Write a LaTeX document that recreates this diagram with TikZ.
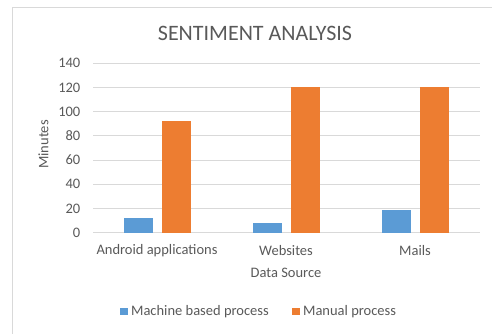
\documentclass[tikz,border=0pt]{standalone}
\usepackage{fontspec}
\setmainfont{Carlito}
\usetikzlibrary{positioning}
\definecolor{barblue}{HTML}{5B9BD5}
\definecolor{barorange}{HTML}{ED7D31}
\definecolor{txtgray}{HTML}{595959}
\definecolor{gridgray}{HTML}{D9D9D9}
\tikzstyle{gridline} = [draw=gridgray, line width=1pt]
\tikzstyle{framebox} = [draw=gridgray, line width=1.2pt]
\tikzstyle{ticklabel} = [text=txtgray, font=\fontsize{14.5}{17}\selectfont, anchor=east, inner sep=0pt]
\tikzstyle{catlabel} = [text=txtgray, font=\fontsize{14.5}{17}\selectfont, inner sep=0pt]
\tikzstyle{machine} = [fill=barblue]
\tikzstyle{manual} = [fill=barorange]
\tikzstyle{legendsq} = [minimum size=7.5pt, inner sep=0pt]

\begin{document}
\begin{tikzpicture}[x=1pt, y=-1pt]
    \useasboundingbox (0,0) rectangle (492,334);
    \draw [framebox] (12.7,334) -- (12.7,7.3) -- (492,7.3);

    \node (title) [text=txtgray, font=\fontsize{22}{26}\selectfont] at (255,33) {SENTIMENT ANALYSIS};

    % value axis: 0 at y=232.7, 1.21px per minute
    \foreach \v in {0,20,...,140} {
        \draw [gridline] (93,{232.7-1.21*\v}) -- (480,{232.7-1.21*\v});
        \node [ticklabel] at (80.5,{232.7-1.21*\v}) {\v};
    }

    \foreach \cx/\m/\o in {157/12/92, 286/8/120, 415/19/120} {
        \fill [machine] (\cx-33,232.7) rectangle (\cx-4,{232.7-1.21*\m});
        \fill [manual] (\cx+4.5,232.7) rectangle (\cx+33.5,{232.7-1.21*\o});
    }

    \node (android) [catlabel] at (157,250.5) {Android applications};
    \node (websites) [catlabel] at (286,250.5) {Websites};
    \node (mails) [catlabel] at (415,250.5) {Mails};

    \node (xtitle) [catlabel] at (286,272.5) {Data Source};
    \node (ytitle) [catlabel, rotate=90] at (43.5,144.5) {Minutes};

    \node (sqmachine) [legendsq, machine] at (124,311.5) {};
    \node (legmachine) [catlabel, right=3pt of sqmachine] {Machine based process};
    \node (sqmanual) [legendsq, manual] at (296,311.5) {};
    \node (legmanual) [catlabel, right=3pt of sqmanual] {Manual process};
\end{tikzpicture}
\end{document}
